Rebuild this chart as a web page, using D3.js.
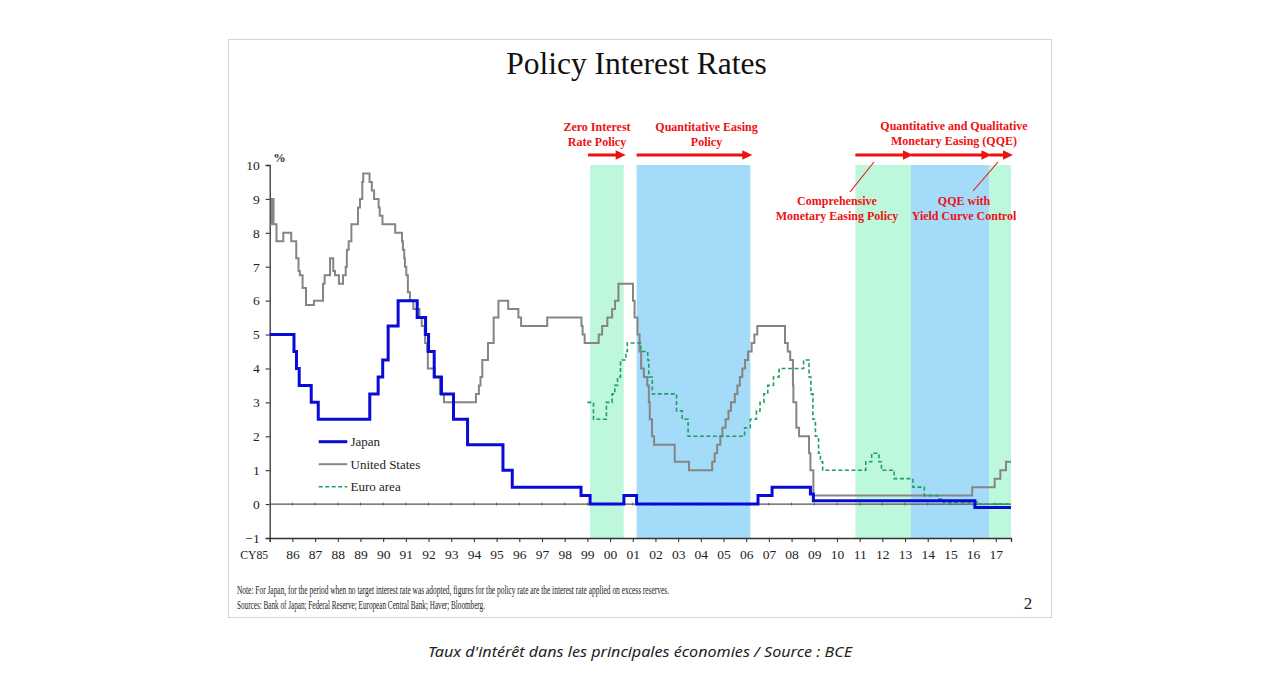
<!DOCTYPE html>
<html>
<head>
<meta charset="utf-8">
<script src="https://cdn.jsdelivr.net/npm/d3@7"></script>
<style>
  html, body { margin: 0; padding: 0; background: #ffffff; }
  svg { display: block; }
</style>
</head>
<body>
<svg id="chart" width="1280" height="699"></svg>
<script>
// ---------------- DATA ----------------
const yearTicks = d3.range(1985, 2018);
const yTicks = [-1, 0, 1, 2, 3, 4, 5, 6, 7, 8, 9, 10];
const xEnd = 2017.67;

// [decimal year, rate %] step changes
const japanRates = [
  [1985.0, 5.0], [1986.07, 4.5], [1986.18, 4.0], [1986.3, 3.5], [1986.83, 3.0], [1987.14, 2.5],
  [1989.41, 3.25], [1989.78, 3.75], [1989.98, 4.25], [1990.22, 5.25], [1990.66, 6.0],
  [1991.5, 5.5], [1991.87, 5.0], [1992.0, 4.5], [1992.25, 3.75], [1992.57, 3.25],
  [1993.1, 2.5], [1993.72, 1.75], [1995.28, 1.0], [1995.69, 0.5], [1998.72, 0.25],
  [1999.12, 0.0], [2000.61, 0.25], [2001.17, 0.0], [2006.52, 0.25], [2007.14, 0.5],
  [2008.83, 0.3], [2008.96, 0.1], [2016.08, -0.1], [2017.67, -0.1]
];

const usRates = [
  [1985.0, 8.25], [1985.1, 9.0], [1985.17, 8.25], [1985.3, 7.75], [1985.6, 8.0], [1985.95, 7.75],
  [1986.17, 7.25], [1986.27, 6.875], [1986.33, 6.75], [1986.45, 6.375], [1986.6, 5.875],
  [1986.95, 6.0], [1987.35, 6.5], [1987.42, 6.75], [1987.66, 7.25], [1987.8, 6.875],
  [1987.88, 6.75], [1988.05, 6.5], [1988.23, 6.75], [1988.35, 7.0], [1988.4, 7.5],
  [1988.48, 7.75], [1988.6, 8.25], [1988.89, 8.75], [1988.98, 9.0], [1989.08, 9.5],
  [1989.12, 9.75], [1989.4, 9.5], [1989.5, 9.25], [1989.6, 9.0], [1989.8, 8.75],
  [1989.85, 8.5], [1989.97, 8.25], [1990.53, 8.0], [1990.83, 7.75], [1990.87, 7.5],
  [1990.93, 7.25], [1990.96, 7.0], [1991.02, 6.75], [1991.09, 6.25], [1991.18, 6.0],
  [1991.33, 5.75], [1991.6, 5.5], [1991.7, 5.25], [1991.83, 5.0], [1991.85, 4.75],
  [1991.93, 4.5], [1991.97, 4.0], [1992.27, 3.75], [1992.5, 3.25], [1992.68, 3.0],
  [1994.09, 3.25], [1994.22, 3.5], [1994.29, 3.75], [1994.37, 4.25], [1994.62, 4.75],
  [1994.87, 5.5], [1995.08, 6.0], [1995.51, 5.75], [1995.96, 5.5], [1996.08, 5.25],
  [1997.23, 5.5], [1998.74, 5.25], [1998.79, 5.0], [1998.88, 4.75], [1999.5, 5.0],
  [1999.65, 5.25], [1999.88, 5.5], [2000.09, 5.75], [2000.22, 6.0], [2000.37, 6.5],
  [2001.01, 6.0], [2001.08, 5.5], [2001.21, 5.0], [2001.3, 4.5], [2001.37, 4.0],
  [2001.49, 3.75], [2001.64, 3.5], [2001.71, 3.0], [2001.75, 2.5], [2001.85, 2.0],
  [2001.94, 1.75], [2002.85, 1.25], [2003.48, 1.0], [2004.5, 1.25], [2004.61, 1.5],
  [2004.72, 1.75], [2004.86, 2.0], [2004.95, 2.25], [2005.09, 2.5], [2005.22, 2.75],
  [2005.33, 3.0], [2005.5, 3.25], [2005.61, 3.5], [2005.72, 3.75], [2005.83, 4.0],
  [2005.95, 4.25], [2006.08, 4.5], [2006.24, 4.75], [2006.36, 5.0], [2006.49, 5.25],
  [2007.71, 4.75], [2007.83, 4.5], [2007.94, 4.25], [2008.06, 3.5], [2008.08, 3.0],
  [2008.21, 2.25], [2008.33, 2.0], [2008.77, 1.5], [2008.83, 1.0], [2008.96, 0.25],
  [2015.96, 0.5], [2016.95, 0.75], [2017.2, 1.0], [2017.45, 1.25], [2017.67, 1.25]
];

const euroRates = [
  [1999.0, 3.0], [1999.27, 2.5], [1999.84, 3.0], [2000.09, 3.25], [2000.21, 3.5],
  [2000.33, 3.75], [2000.46, 4.25], [2000.7, 4.5], [2000.76, 4.75], [2001.36, 4.5],
  [2001.66, 4.25], [2001.71, 3.75], [2001.86, 3.25], [2002.93, 2.75], [2003.18, 2.5],
  [2003.44, 2.0], [2005.93, 2.25], [2006.18, 2.5], [2006.45, 2.75], [2006.61, 3.0],
  [2006.78, 3.25], [2006.95, 3.5], [2007.2, 3.75], [2007.45, 4.0], [2008.53, 4.25],
  [2008.77, 3.75], [2008.85, 3.25], [2008.94, 2.5], [2009.05, 2.0], [2009.19, 1.5],
  [2009.27, 1.25], [2009.37, 1.0], [2011.27, 1.25], [2011.53, 1.5], [2011.85, 1.25],
  [2011.96, 1.0], [2012.52, 0.75], [2013.35, 0.5], [2013.85, 0.25], [2014.45, 0.15],
  [2014.69, 0.05], [2016.19, 0.0], [2017.67, 0.0]
];

// BoJ policy periods
const policyStarts = [1999.12, 2001.17, 2010.81, 2013.26, 2016.72];
const policyEnds   = [2000.6, 2006.18, 2013.26, 2016.72, 2017.67];
const policyKinds  = ["green", "blue", "green", "blue", "green"];

const seriesNames = ["Japan", "United States", "Euro area"];
const titleText = "Policy Interest Rates";
const noteLines = [
  "Note: For Japan, for the period when no target interest rate was adopted, figures for the policy rate are the interest rate applied on excess reserves.",
  "Sources: Bank of Japan; Federal Reserve; European Central Bank; Haver; Bloomberg."
];
const captionText = "Taux d'intérêt dans les principales économies / Source : BCE";

// ---------------- DRAW ----------------
const svg = d3.select("#chart");
const serif = "'Liberation Serif', 'Times New Roman', serif";
const RED = "#ee1111";

const x = d3.scaleLinear().domain([1985, xEnd]).range([269.7, 1011]);
const y = d3.scaleLinear().domain([-1, 10]).range([538, 165]);

// frame
svg.append("rect").attr("x", 228.5).attr("y", 39.5).attr("width", 823).attr("height", 578)
  .attr("fill", "#fff").attr("stroke", "#d4d4d4").attr("stroke-width", 1);

// title
svg.append("text").attr("x", 636.5).attr("y", 73.5).attr("text-anchor", "middle")
  .style("font-family", serif).style("font-size", "31.5px").attr("fill", "#111").text(titleText);

// bands
const bandColor = { green: "#bdf7dc", blue: "#a3dbf9" };
svg.append("g").selectAll("rect").data(policyStarts).join("rect")
  .attr("x", (d) => x(d))
  .attr("width", (d, i) => x(policyEnds[i]) - x(d))
  .attr("y", y(10)).attr("height", y(-1) - y(10))
  .attr("fill", (d, i) => bandColor[policyKinds[i]]);

// axes
const yAxis = d3.axisLeft(y).tickValues(yTicks).tickSize(4).tickPadding(6);
const gy = svg.append("g").attr("transform", `translate(${x(1985)},0)`).call(yAxis);
const xAxis = d3.axisBottom(x).tickValues(yearTicks).tickSize(4).tickPadding(7)
  .tickFormat((d) => d === 1985 ? "CY85" : String(d % 100).padStart(2, "0"));
const gx = svg.append("g").attr("transform", `translate(0,${y(-1)})`).call(xAxis);
[gx, gy].forEach((g) => {
  g.select(".domain").attr("stroke", "#333").attr("stroke-width", 1.3);
  g.selectAll(".tick line").attr("stroke", "#333").attr("stroke-width", 1.1);
  g.selectAll(".tick text").style("font-family", serif).style("font-size", "13.5px").attr("fill", "#222");
});
gx.selectAll(".tick text").filter((d) => d === 1985).attr("text-anchor", "end").attr("dx", "-2")
  .attr("textLength", 28).attr("lengthAdjust", "spacingAndGlyphs");
svg.append("text").attr("x", 279.5).attr("y", 161.5).attr("text-anchor", "middle")
  .style("font-family", serif).style("font-size", "12.5px").style("font-weight", "bold").attr("fill", "#333").text("%");

// zero line with small year marks
svg.append("line").attr("x1", x(1985)).attr("x2", x(xEnd)).attr("y1", y(0)).attr("y2", y(0))
  .attr("stroke", "#555").attr("stroke-width", 1.1);
svg.append("g").selectAll("line").data(yearTicks.slice(1)).join("line")
  .attr("x1", (d) => x(d)).attr("x2", (d) => x(d)).attr("y1", y(0) - 1.5).attr("y2", y(0) + 1.5)
  .attr("stroke", "#666").attr("stroke-width", 1);

// series
const line = d3.line().x((d) => x(d[0])).y((d) => y(d[1])).curve(d3.curveStepAfter);
svg.append("path").datum(usRates).attr("d", line).attr("fill", "none")
  .attr("stroke", "#858585").attr("stroke-width", 2);
svg.append("path").datum(euroRates).attr("d", line).attr("fill", "none")
  .attr("stroke", "#1fa05e").attr("stroke-width", 1.6).attr("stroke-dasharray", "4,2.5");
svg.append("path").datum(japanRates).attr("d", line).attr("fill", "none")
  .attr("stroke", "#0a0ad8").attr("stroke-width", 3);

// legend
const legendStyles = [
  { stroke: "#0a0ad8", width: 3, dash: null },
  { stroke: "#858585", width: 2, dash: null },
  { stroke: "#1fa05e", width: 1.6, dash: "4,2.5" }
];
const lg = svg.append("g");
seriesNames.forEach((name, i) => {
  const yy = 441.7 + i * 22.5;
  lg.append("line").attr("x1", 318.7).attr("x2", 347.3).attr("y1", yy).attr("y2", yy)
    .attr("stroke", legendStyles[i].stroke).attr("stroke-width", legendStyles[i].width)
    .attr("stroke-dasharray", legendStyles[i].dash);
  lg.append("text").attr("x", 350.5).attr("y", yy + 4.5)
    .style("font-family", serif).style("font-size", "13px").attr("fill", "#222").text(name);
});

// arrows
const arrowY = 155;
const ag = svg.append("g");
policyStarts.forEach((s, i) => {
  const x0 = x(s) - (i === 0 ? 2 : 0);
  const x1 = x(policyEnds[i]) + 2;
  ag.append("line").attr("x1", x0).attr("x2", x1 - 8).attr("y1", arrowY).attr("y2", arrowY)
    .attr("stroke", RED).attr("stroke-width", 3);
  ag.append("path").attr("d", `M${x1},${arrowY} L${x1 - 10},${arrowY - 4.8} L${x1 - 10},${arrowY + 4.8} Z`)
    .attr("fill", RED);
});

// annotation labels
const labelDefs = [
  { cx: 597, lines: ["Zero Interest", "Rate Policy"], y0: 131 },
  { cx: 706.5, lines: ["Quantitative Easing", "Policy"], y0: 131 },
  { cx: 954, lines: ["Quantitative and Qualitative", "Monetary Easing (QQE)"], y0: 130 },
  { cx: 837, lines: ["Comprehensive", "Monetary Easing Policy"], y0: 205 },
  { cx: 964, lines: ["QQE with", "Yield Curve Control"], y0: 205 }
];
labelDefs.forEach((l) => {
  l.lines.forEach((t, j) => {
    svg.append("text").attr("x", l.cx).attr("y", l.y0 + j * 14.8).attr("text-anchor", "middle")
      .style("font-family", serif).style("font-size", "12px").style("font-weight", "bold")
      .attr("fill", RED).text(t);
  });
});
// leader lines
svg.append("line").attr("x1", 874).attr("y1", 162).attr("x2", 850).attr("y2", 192)
  .attr("stroke", RED).attr("stroke-width", 1.1);
svg.append("line").attr("x1", 998).attr("y1", 162).attr("x2", 973).attr("y2", 191)
  .attr("stroke", RED).attr("stroke-width", 1.1);

// notes
const noteWidths = [432, 248];
noteLines.forEach((t, i) => {
  svg.append("text").attr("x", 237).attr("y", 594 + i * 14.5)
    .attr("textLength", noteWidths[i]).attr("lengthAdjust", "spacingAndGlyphs")
    .style("font-family", serif).style("font-size", "12.5px").attr("fill", "#222").text(t);
});
svg.append("text").attr("x", 1028).attr("y", 609).attr("text-anchor", "middle")
  .style("font-family", serif).style("font-size", "17px").attr("fill", "#222").text("2");

// caption
svg.append("text").attr("x", 640).attr("y", 657).attr("text-anchor", "middle")
  .attr("textLength", 424).attr("lengthAdjust", "spacingAndGlyphs")
  .style("font-family", "'Noto Sans', sans-serif").style("font-style", "italic")
  .style("font-size", "14px").attr("fill", "#222").text(captionText);
</script>
</body>
</html>
